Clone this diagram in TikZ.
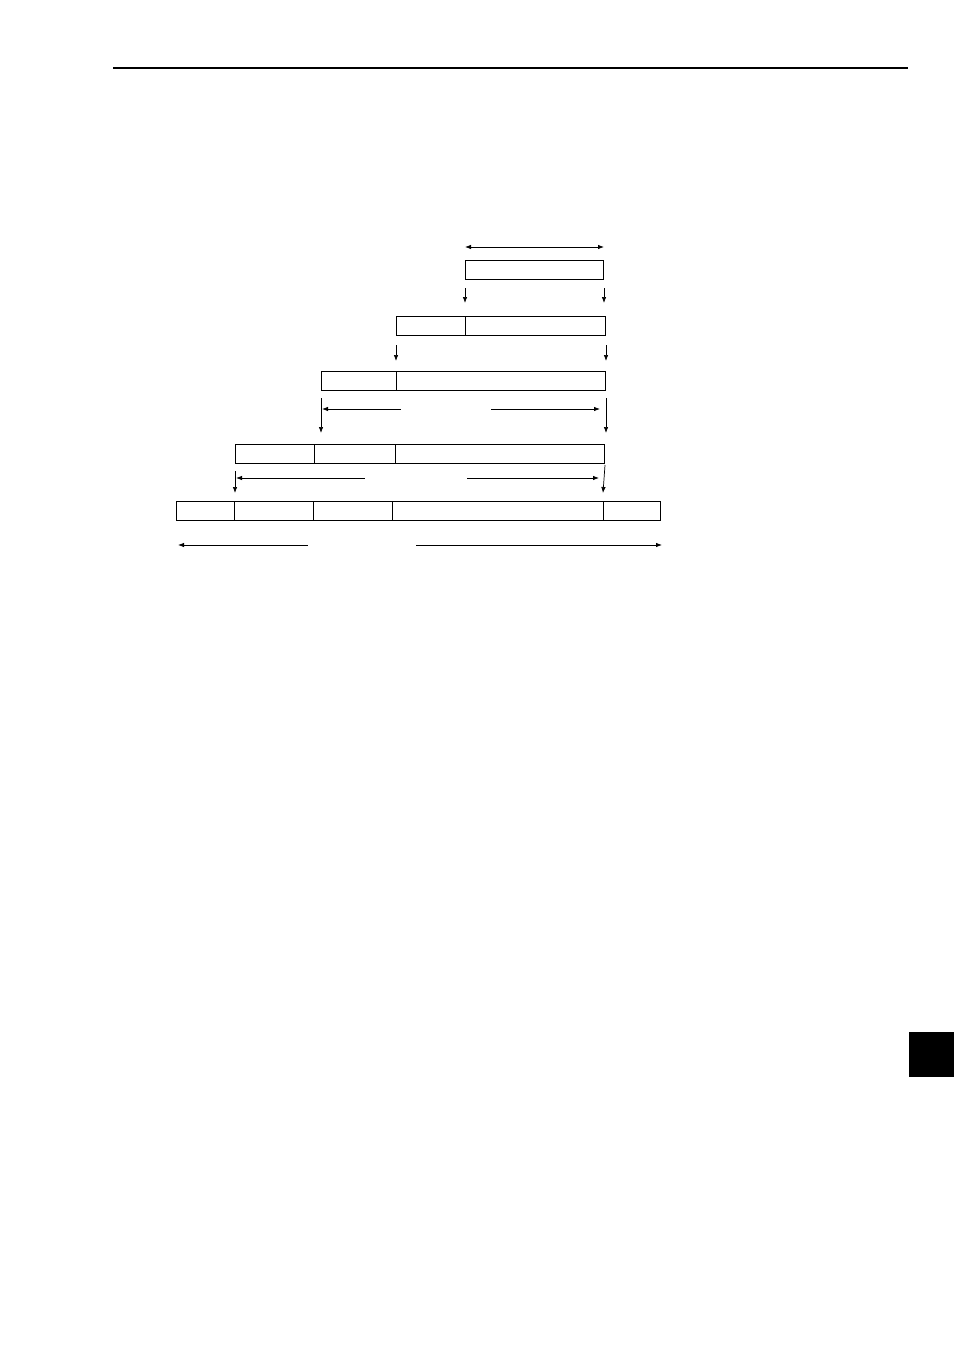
\documentclass[tikz,border=0pt]{standalone}
\usetikzlibrary{arrows.meta}

\begin{document}
\begin{tikzpicture}[x=1pt,y=-1pt,
    seg/.style={draw, line width=1pt, minimum height=19pt, inner sep=0pt, anchor=north west},
    dn/.style={line width=0.7pt, -{Latex[length=6pt,width=4.5pt]}},
    lft/.style={line width=0.8pt, {Latex[length=6pt,width=4.5pt]}-},
    both/.style={line width=0.8pt, {Latex[length=6pt,width=4.5pt]}-{Latex[length=6pt,width=4.5pt]}}]
            \useasboundingbox (0,0) rectangle (954,1351);
            \draw[line width=1.2pt] (113,68) -- (908,68);
            \fill[black] (909,1032) rectangle (954,1077);

            %1
            \node[seg, minimum width=138pt] (r1a) at (465,260) {};
            %2
            \node[seg, minimum width=69pt] (r2a) at (396,316) {};
            \node[seg, minimum width=140pt] (r2b) at (465,316) {};
            %3
            \node[seg, minimum width=75pt] (r3a) at (321,371) {};
            \node[seg, minimum width=209pt] (r3b) at (396,371) {};
            %4
            \node[seg, minimum width=79pt] (r4a) at (235,444) {};
            \node[seg, minimum width=81pt] (r4b) at (314,444) {};
            \node[seg, minimum width=209pt] (r4c) at (395,444) {};
            %5
            \node[seg, minimum width=58pt] (r5a) at (176,501) {};
            \node[seg, minimum width=79pt] (r5b) at (234,501) {};
            \node[seg, minimum width=79pt] (r5c) at (313,501) {};
            \node[seg, minimum width=211pt] (r5d) at (392,501) {};
            \node[seg, minimum width=57pt] (r5e) at (603,501) {};

            \draw[both] ([yshift=13pt]r1a.north west) -- ([yshift=13pt]r1a.north east);

            \draw[dn] ([yshift=-8pt]r1a.south west) -- ([yshift=13pt]r2b.north west);
            \draw[dn] ([yshift=-8pt]r1a.south east) -- ([yshift=13pt]r1a.south east |- r2b.north);

            \draw[dn] ([yshift=-9pt]r2a.south west) -- ([yshift=10pt]r3b.north west);
            \draw[dn] ([yshift=-9pt]r2b.south east) -- ([yshift=10pt]r3b.north east);

            \draw[dn] ([yshift=-7pt]r3a.south west) -- ([yshift=11pt]r3a.south west |- r4b.north);
            \draw[dn] ([yshift=-7pt]r3b.south east) -- ([yshift=11pt]r3b.south east |- r4c.north);
            \draw[lft] ([xshift=1pt,yshift=-18pt]r3a.south west) -- ++(79,0);
            \draw[lft] ([xshift=-6pt,yshift=-18pt]r3b.south east) -- ++(-109,0);

            \draw[dn] ([yshift=-7pt]r4a.south west) -- ([yshift=8pt]r4a.south west |- r5b.north);
            \draw[dn] ([yshift=-1pt]r4c.south east) -- ([yshift=8pt]r5e.north west);
            \draw[lft] ([xshift=1pt,yshift=-14pt]r4a.south west) -- ++(129,0);
            \draw[lft] ([xshift=-6pt,yshift=-14pt]r4c.south east) -- ++(-132,0);

            \draw[lft] ([xshift=2pt,yshift=-24pt]r5a.south west) -- ++(130,0);
            \draw[lft] ([xshift=1pt,yshift=-24pt]r5e.south east) -- ++(-246,0);
\end{tikzpicture}
\end{document}
